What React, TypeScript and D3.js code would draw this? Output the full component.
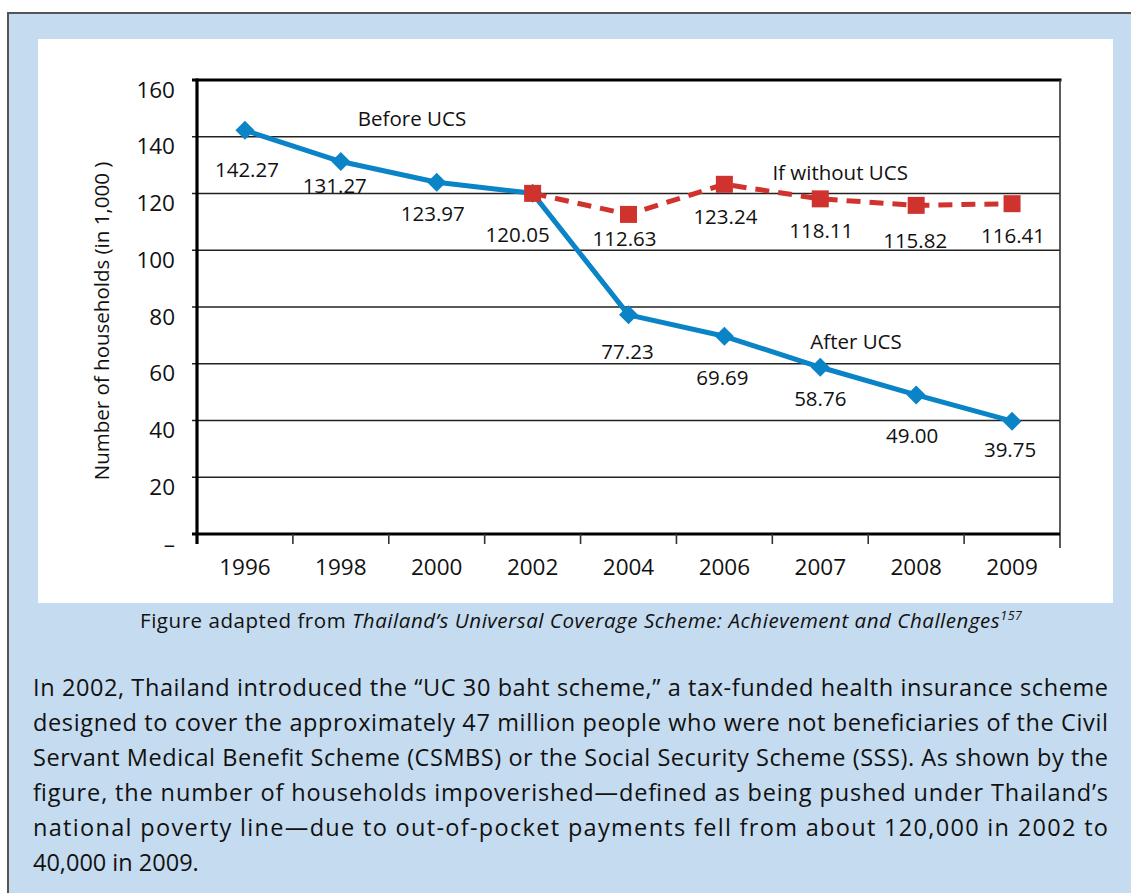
import React from "react";
import * as d3 from "d3";

const years = ["1996", "1998", "2000", "2002", "2004", "2006", "2007", "2008", "2009"];
const beforeAfterValues = [142.27, 131.27, 123.97, 120.05, 77.23, 69.69, 58.76, 49.0, 39.75];
const withoutYears = ["2002", "2004", "2006", "2007", "2008", "2009"];
const withoutValues = [120.05, 112.63, 123.24, 118.11, 115.82, 116.41];
const yTickValues = [0, 20, 40, 60, 80, 100, 120, 140, 160];

// label placement (layout only)
const blueLabelOffsets: [number, number][] = [
  [2, 47], [-6, 31], [-4, 39], [-15, 49], [-1, 44], [-2, 49], [0, 39], [-4, 48], [-2, 36],
];
const redLabelOffsets: [number, number][] = [
  [0, 0], [-4, 32], [1, 40], [1, 39], [-1, 43], [1, 39],
];

const paragraphLines = [
  "In 2002, Thailand introduced the \u201CUC 30 baht scheme,\u201D a tax-funded health insurance scheme",
  "designed to cover the approximately 47 million people who were not beneficiaries of the Civil",
  "Servant Medical Benefit Scheme (CSMBS) or the Social Security Scheme (SSS). As shown by the",
  "figure, the number of households impoverished\u2014defined as being pushed under Thailand\u2019s",
  "national poverty line\u2014due to out-of-pocket payments fell from about 120,000 in 2002 to",
  "40,000 in 2009.",
];

const FONT = "'Open Sans', 'DejaVu Sans', sans-serif";
const BLUE = "#0a84c6";
const RED = "#d0322d";

export default function App() {
  const W = 1131, H = 893;
  const left = 197, right = 1060, top = 80, bottom = 534;
  const x = d3.scaleBand<string>().domain(years).range([left, right]).padding(0);
  const y = d3.scaleLinear().domain([0, 160]).range([bottom, top]);
  const cx = (yr: string) => (x(yr) as number) + x.bandwidth() / 2;

  const line = d3.line<[string, number]>().x((d) => cx(d[0])).y((d) => y(d[1]));
  const bluePts: [string, number][] = years.map((yr, i) => [yr, beforeAfterValues[i]]);
  const redPts: [string, number][] = withoutYears.map((yr, i) => [yr, withoutValues[i]]);

  const textW = 1108 - 33;

  return (
    <svg width={W} height={H} style={{ position: "absolute", left: 0, top: 0 }} fontFamily={FONT}>
      {/* outer frame */}
      <rect x={8} y={13} width={W} height={H} fill="#c5dbef" stroke="#555" strokeWidth={2} />
      <rect x={38} y={39} width={1113 - 38} height={603 - 39} fill="#fff" />

      {/* gridlines */}
      {yTickValues.filter((v) => v > 0 && v < 160).map((v) => (
        <line key={v} x1={192} x2={right} y1={y(v)} y2={y(v)} stroke="#222" strokeWidth={1.4} />
      ))}
      {/* top border */}
      <line x1={192} x2={right + 1.5} y1={top} y2={top} stroke="#000" strokeWidth={3} />
      {/* right border */}
      <line x1={right} x2={right} y1={top} y2={548} stroke="#333" strokeWidth={1.6} />
      {/* bottom axis */}
      <line x1={192} x2={right} y1={bottom} y2={bottom} stroke="#000" strokeWidth={3} />
      {/* left axis */}
      <line x1={left} x2={left} y1={top - 1.5} y2={544} stroke="#000" strokeWidth={3.2} />
      {/* x ticks */}
      {years.slice(1).map((yr) => (
        <line key={yr} x1={x(yr)} x2={x(yr)} y1={bottom} y2={544} stroke="#333" strokeWidth={1.6} />
      ))}

      {/* y tick labels */}
      {yTickValues.map((v) => (
        <text key={v} x={175} y={y(v) + 17.5} textAnchor="end" fontSize={22.5} fill="#111">
          {v === 0 ? "\u2013" : v}
        </text>
      ))}
      {/* x labels */}
      {years.map((yr) => (
        <text key={yr} x={cx(yr)} y={575} textAnchor="middle" fontSize={22.5} fill="#111">
          {yr}
        </text>
      ))}
      {/* y axis title */}
      <text
        transform={`translate(109, 321) rotate(-90)`}
        textAnchor="middle"
        fontSize={20.5}
        fill="#111"
      >
        Number of households (in 1,000 )
      </text>

      {/* red dashed line */}
      <path d={line(redPts) || ""} fill="none" stroke={RED} strokeWidth={5} strokeDasharray="14 9" />
      {/* blue line */}
      <path d={line(bluePts) || ""} fill="none" stroke={BLUE} strokeWidth={5} strokeLinejoin="round" />
      {bluePts.map(([yr, v]) => (
        <path
          key={"b" + yr}
          d={`M${cx(yr)},${y(v) - 9.5}L${cx(yr) + 9.5},${y(v)}L${cx(yr)},${y(v) + 9.5}L${cx(yr) - 9.5},${y(v)}Z`}
          fill={BLUE}
        />
      ))}
      {redPts.map(([yr, v]) => (
        <rect key={"r" + yr} x={cx(yr) - 8.5} y={y(v) - 8.5} width={17} height={17} fill={RED} />
      ))}

      {/* data labels */}
      {bluePts.map(([yr, v], i) => (
        <text
          key={"bl" + yr}
          x={cx(yr) + blueLabelOffsets[i][0]}
          y={y(v) + blueLabelOffsets[i][1]}
          textAnchor="middle"
          fontSize={20.5}
          fill="#111"
        >
          {v.toFixed(2)}
        </text>
      ))}
      {redPts.slice(1).map(([yr, v], j) => (
        <text
          key={"rl" + yr}
          x={cx(yr) + redLabelOffsets[j + 1][0]}
          y={y(v) + redLabelOffsets[j + 1][1]}
          textAnchor="middle"
          fontSize={20.5}
          fill="#111"
        >
          {v.toFixed(2)}
        </text>
      ))}

      {/* annotations */}
      <text x={cx("1998") + 17} y={126} fontSize={20.5} fill="#111">Before UCS</text>
      <text x={cx("2006") + 48} y={180} fontSize={20.5} fill="#111">If without UCS</text>
      <text x={cx("2007") - 10} y={349} fontSize={20.5} fill="#111">After UCS</text>

      {/* caption */}
      <text x={140} y={628} fontSize={20.5} fill="#111" textLength={882} lengthAdjust="spacing">
        Figure adapted from{" "}
        <tspan fontStyle="italic">Thailand{"\u2019"}s Universal Coverage Scheme: Achievement and Challenges</tspan>
        <tspan fontStyle="italic" fontSize={12.5} dy={-8}>157</tspan>
      </text>

      {/* paragraph */}
      {paragraphLines.map((ln, i) => (
        <text
          key={i}
          x={33}
          y={696 + i * 35}
          fontSize={23.5}
          fill="#111"
          {...(i < paragraphLines.length - 1 ? { textLength: textW, lengthAdjust: "spacing" } : {})}
        >
          {ln}
        </text>
      ))}
    </svg>
  );
}
